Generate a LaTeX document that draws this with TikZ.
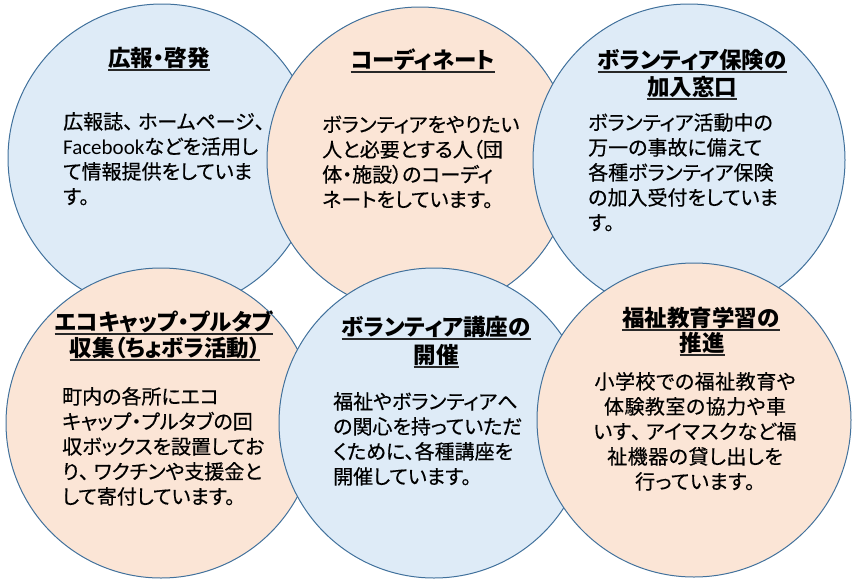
\documentclass[tikz,border=0pt]{standalone}
\usepackage{fontspec}
\setmainfont{Noto Sans CJK JP}
\newfontfamily\ttlfont{Noto Sans CJK JP}[RawFeature={+palt}]
\newfontfamily\bodyfont{Noto Sans CJK JP}[FakeBold=0.5,RawFeature={+palt}]
\newfontfamily\fwfont{Noto Sans CJK JP}[FakeBold=0.5]
\newfontfamily\latinfont{Carlito}
\newcommand\zc{{\fwfont 、}\kern-0.25em}
\definecolor{bluef}{RGB}{222,235,247}
\definecolor{peachf}{RGB}{251,229,214}
\definecolor{bordc}{RGB}{65,113,156}
\definecolor{ulc}{RGB}{40,40,40}
\newcommand\myul[1]{\leavevmode\setbox0=\hbox{#1}\rlap{\textcolor{ulc}{\rule[-4.5pt]{\wd0}{1.3pt}}}\box0}
\begin{document}
\begin{tikzpicture}[x=1pt,y=-1pt]
\tikzset{
  bub/.style={circle, draw=bordc, line width=1pt, inner sep=0pt, minimum size=#1},
  bluebub/.style={bub=#1, fill=bluef},
  peachbub/.style={bub=#1, fill=peachf},
  ttl/.style={anchor=base, inner sep=0pt, font=\ttlfont\bfseries\fontsize{22.5}{27}\selectfont},
  bodyl/.style={anchor=base west, align=left, inner sep=0pt, font=\bodyfont\fontsize{20}{25}\selectfont},
  bodyc/.style={anchor=base, align=center, inner sep=0pt, font=\bodyfont\fontsize{20}{25}\selectfont\addfontfeatures{LetterSpace=2.5}}
}
\useasboundingbox (0,0) rectangle (860,584);
% circles
\node[bluebub=308]  (c1) at (162,158) {};
\node[peachbub=306] (c2) at (420,160) {};
\node[bluebub=312]  (c3) at (689,160) {};
\node[peachbub=310] (c4) at (161,423) {};
\node[bluebub=310]  (c5) at (434,423) {};
\node[peachbub=314] (c6) at (694,420) {};
% titles
\node[ttl] (t1)  at (159,66)  {\myul{広報・啓発}};
\node[ttl] (t2)  at (423,68)  {\myul{コーディネート}};
\node[ttl] (t3a) at (692,68)  {\myul{ボランティア保険の}};
\node[ttl] (t3b) at (692,95)  {\myul{加入窓口}};
\node[ttl] (t4a) at (164,330) {\myul{エコキャップ・プルタブ}};
\node[ttl] (t4b) at (165,356) {\myul{収集（ちょボラ活動）}};
\node[ttl] (t5a) at (436,335) {\myul{ボランティア講座の}};
\node[ttl] (t5b) at (436,363) {\myul{開催}};
\node[ttl] (t6a) at (701,326) {\myul{福祉教育学習の}};
\node[ttl] (t6b) at (702,351) {\myul{推進}};
% bodies (base anchor = baseline of the last line)
\node[bodyl] (b1) at (63,204) {広報誌\zc ホームページ\zc\\{\latinfont\fontsize{21}{25}\selectfont Facebook}などを活用し\\て情報提供をしていま\\す。};
\node[bodyl] (b2) at (322,207) {ボランティアをやりたい\\人と必要とする人（団\\体・施設）のコーディ\\ネートをしています。};
\node[bodyl] (b3) at (588,230) {ボランティア活動中の\\万一の事故に備えて\\各種ボランティア保険\\の加入受付をしていま\\す。};
\node[bodyl] (b4) at (62,504) {町内の各所にエコ\\キャップ・プルタブの回\\収ボックスを設置してお\\り\zc ワクチンや支援金と\\して寄付しています。};
\node[bodyl] (b5) at (333,484) {福祉やボランティアへ\\の関心を持っていただ\\くために、各種講座を\\開催しています。};
\node[bodyc] (b6) at (695,489) {小学校での福祉教育や\\体験教室の協力や車\\いす\zc アイマスクなど福\\祉機器の貸し出しを\\行っています。};
\end{tikzpicture}
\end{document}
